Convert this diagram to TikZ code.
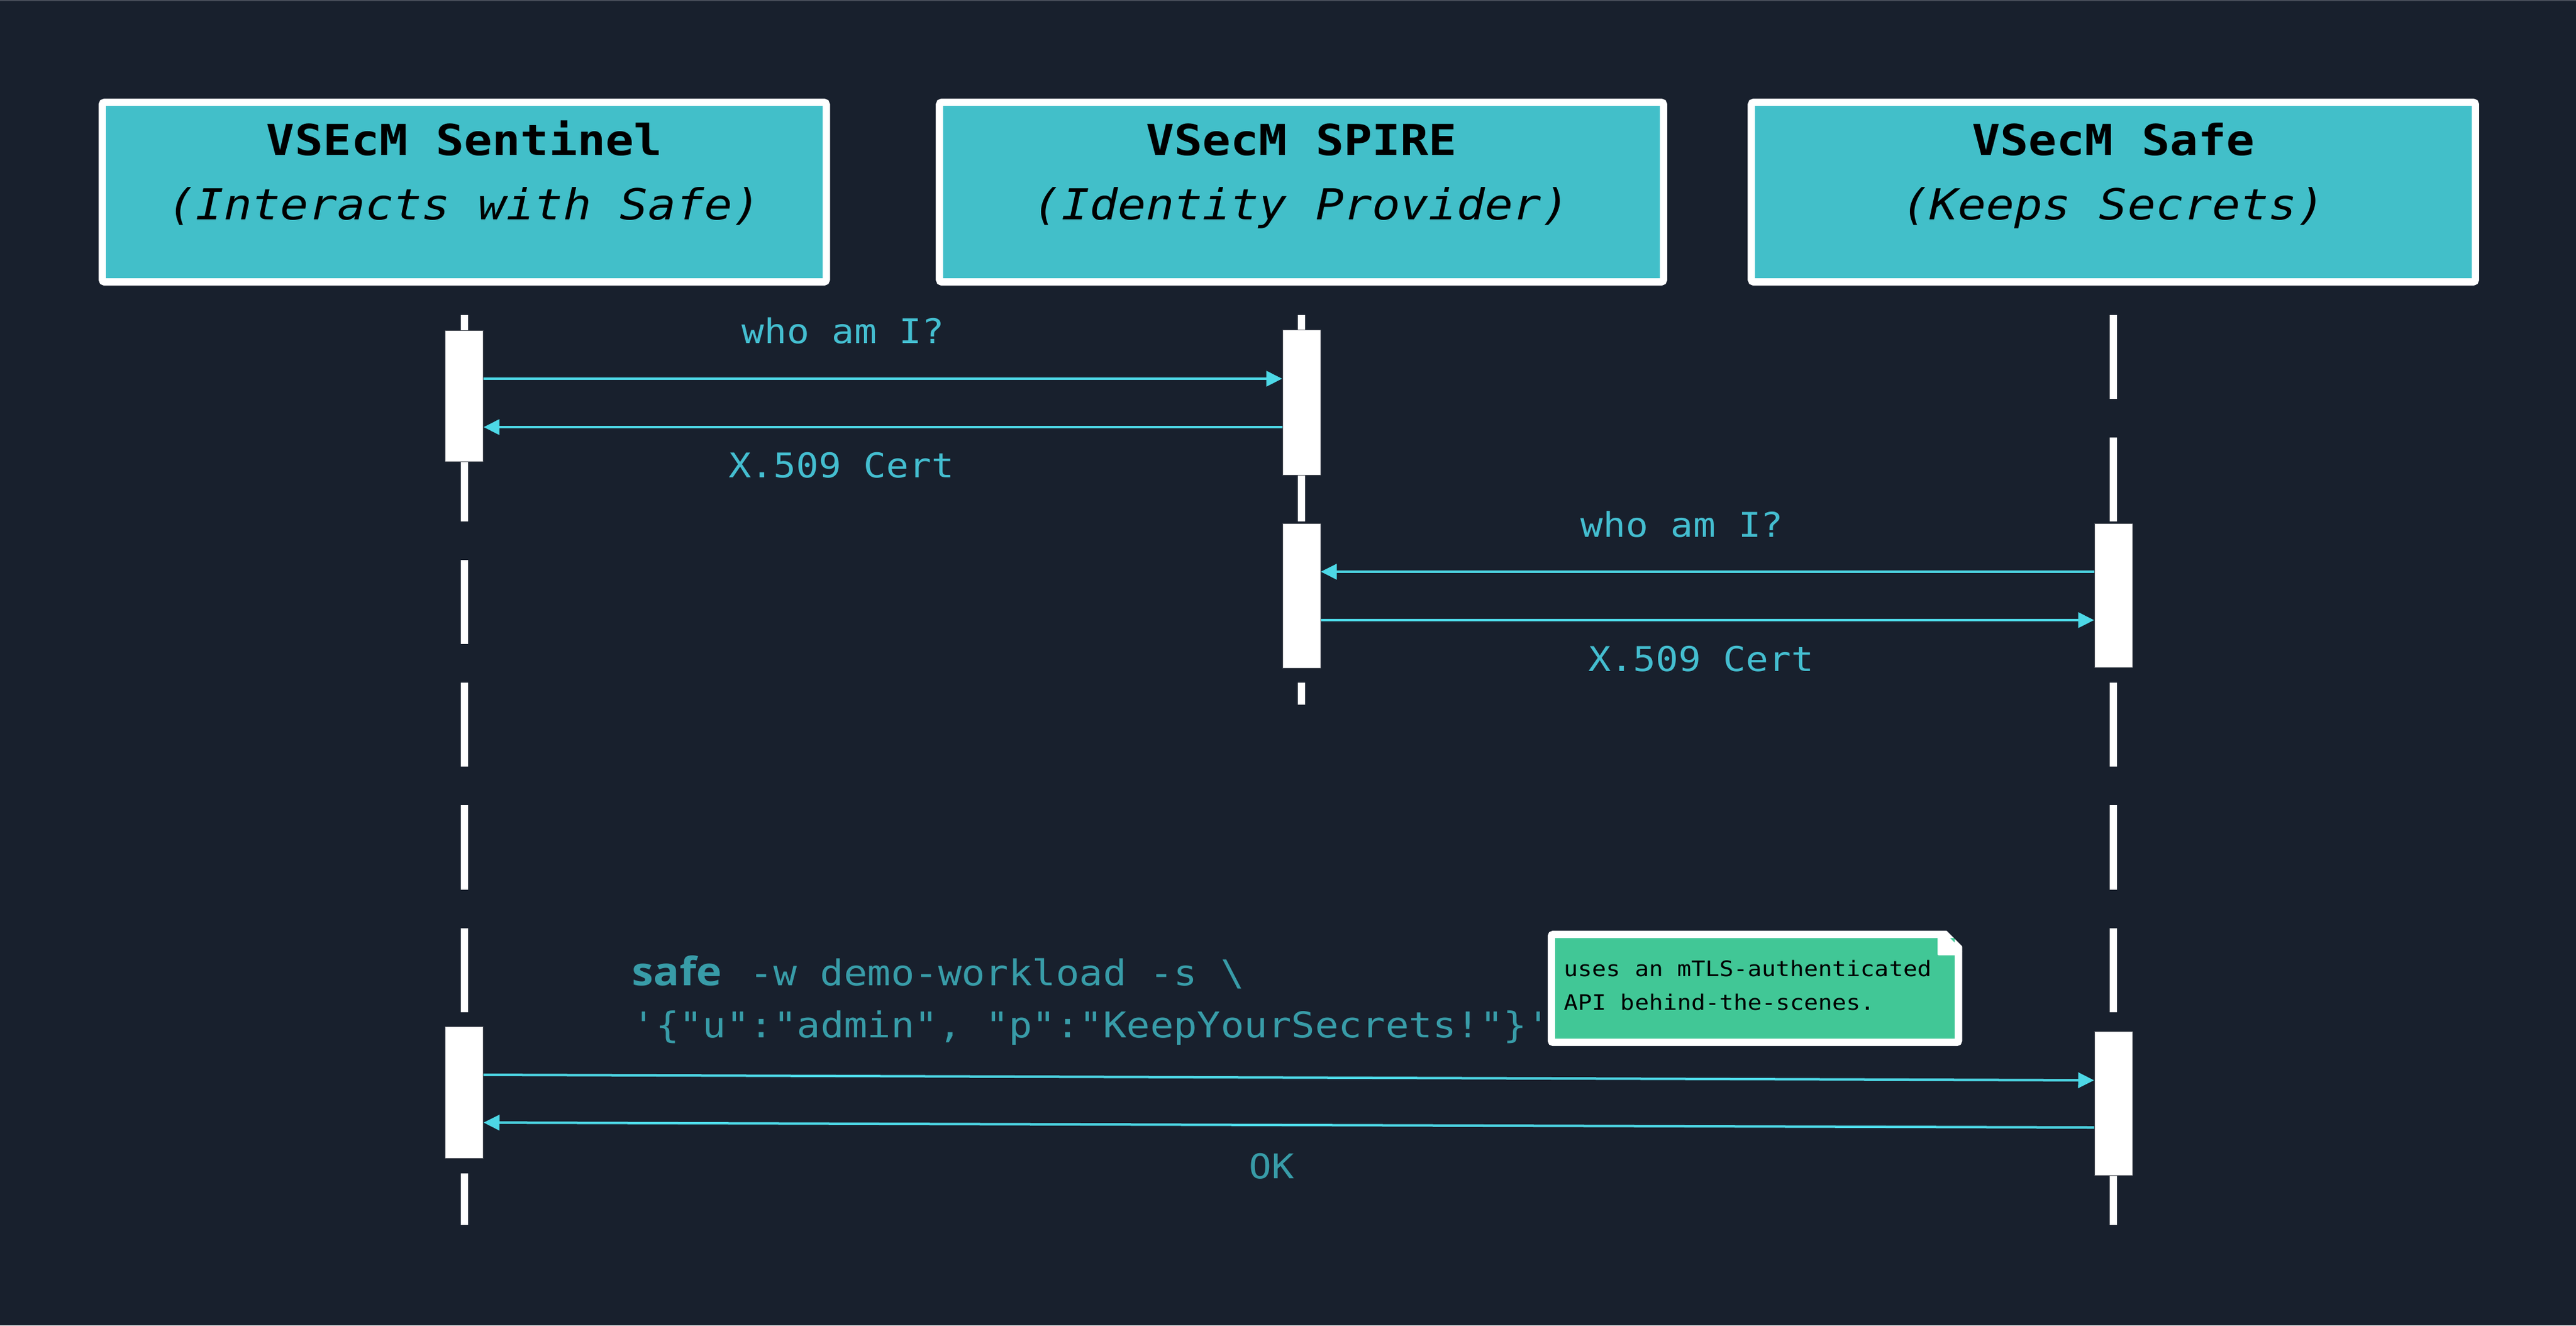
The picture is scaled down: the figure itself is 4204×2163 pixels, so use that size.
\documentclass[tikz,border=0pt]{standalone}
\usepackage{fontspec}
\usetikzlibrary{arrows.meta}
\newfontfamily\ttlfont{DejaVu Sans Mono}[FakeStretch=1.1, Ligatures=TeXOff]
\newfontfamily\lblfont{DejaVu Sans Mono}[FakeStretch=1.1, Ligatures=TeXOff]
\newfontfamily\safewordfont{Open Sans}[FakeStretch=1.1, Ligatures=TeXOff]
\definecolor{bg}{RGB}{24,32,45}
\definecolor{boxfill}{RGB}{66,191,201}
\definecolor{arrowc}{RGB}{77,216,230}
\definecolor{lblc}{RGB}{68,190,208}
\definecolor{cmdc}{RGB}{56,156,168}
\definecolor{notefill}{RGB}{65,199,150}
\definecolor{actedge}{RGB}{80,84,92}
\definecolor{topline}{RGB}{70,76,88}
\tikzset{
  header/.style={draw=white, fill=boxfill, line width=0.12cm, minimum width=11.81cm, minimum height=2.93cm, inner sep=0pt, rounded corners=0.04cm},
  ttl/.style={inner sep=0pt, anchor=base, text=black, font=\ttlfont\bfseries\fontsize{19.8pt}{24pt}\selectfont},
  subttl/.style={inner sep=0pt, anchor=base, text=black, font=\ttlfont\itshape\fontsize{19.8pt}{24pt}\selectfont},
  act/.style={draw=actedge, line width=0.01cm, fill=white, minimum width=0.62cm, inner sep=0pt},
  lifeline/.style={white, line width=0.12cm, dash pattern=on 1.37cm off 0.63cm},
  msg/.style={arrowc, line width=0.04cm, -{Triangle[length=0.26cm, width=0.25cm]}},
  lbl/.style={inner sep=0pt, anchor=base, text=lblc, font=\lblfont\fontsize{15.8pt}{19pt}\selectfont},
  cmd/.style={inner sep=0pt, anchor=base west, text=cmdc, font=\lblfont\fontsize{16.5pt}{20pt}\selectfont},
  safeword/.style={inner sep=0pt, anchor=base west, text=cmdc, font=\safewordfont\bfseries\fontsize{18.2pt}{22pt}\selectfont},
  notebox/.style={draw=white, fill=notefill, line width=0.12cm, minimum width=6.64cm, minimum height=1.76cm, inner sep=0pt, rounded corners=0.03cm},
  notetxt/.style={inner sep=0pt, anchor=base west, text=black, font=\lblfont\fontsize{9.9pt}{12pt}\selectfont}
}
\begin{document}
\begin{tikzpicture}[x=0.01cm, y=-0.01cm]
\fill[bg] (0,0) rectangle (4204,2163);
\useasboundingbox (0,0) rectangle (4204,2163);
\fill[topline] (0,0) rectangle (4204,2);

% header boxes
\node[header] (h1) at (757.7,313.5) {};
\node[header] (h2) at (2124,313.5) {};
\node[header] (h3) at (3449,313.5) {};
\node[ttl] (t1) at (757.7,253) {VSEcM Sentinel};
\node[subttl] (s1) at (757.7,358) {(Interacts with Safe)};
\node[ttl] (t2) at (2124,253) {VSecM SPIRE};
\node[subttl] (s2) at (2124,358) {(Identity Provider)};
\node[ttl] (t3) at (3449,253) {VSecM Safe};
\node[subttl] (s3) at (3449,358) {(Keeps Secrets)};

% lifelines
\coordinate (L1a) at (757.7,514);
\coordinate (L1b) at (757.7,1999);
\coordinate (L2a) at (2124,514);
\coordinate (L2b) at (2124,1150);
\coordinate (L3a) at (3449,514);
\coordinate (L3b) at (3449,1999);
\draw[lifeline] (L1a) -- (L1b);
\draw[lifeline] (L2a) -- (L2b);
\draw[lifeline] (L3a) -- (L3b);

% activation bars
\node[act, minimum height=2.13cm] (A1) at (757.7,646.5) {};
\node[act, minimum height=2.14cm] (A2) at (757.7,1783) {};
\node[act, minimum height=2.36cm] (B1) at (2124,657) {};
\node[act, minimum height=2.35cm] (B2) at (2124,972.5) {};
\node[act, minimum height=2.34cm] (C1) at (3449,972) {};
\node[act, minimum height=2.34cm] (C2) at (3449,1801) {};

% messages
\draw[msg] (A1.east |- 0,618) -- (B1.west |- 0,618);
\draw[msg] (B1.west |- 0,697) -- (A1.east |- 0,697);
\draw[msg] (C1.west |- 0,933) -- (B2.east |- 0,933);
\draw[msg] (B2.east |- 0,1012) -- (C1.west |- 0,1012);
\draw[msg] (A2.east |- 0,1754) -- (C2.west |- 0,1763);
\draw[msg] (C2.west |- 0,1840) -- (A2.east |- 0,1832);

% message labels
\node[lbl] (m1) at (1376,560) {who am I?};
\node[lbl] (m2) at (1373,779) {X.509 Cert};
\node[lbl] (m3) at (2745,876) {who am I?};
\node[lbl] (m4) at (2776,1095) {X.509 Cert};
\node[lbl, text=cmdc] (m6) at (2075,1923) {OK};

% command
\node[safeword] (c0) at (1031,1608) {safe};
\node[cmd] (c1) at (1223,1608) {-w demo-workload -s \textbackslash};
\node[cmd] (c2) at (1031,1693) {'\{"u":"admin", "p":"KeepYourSecrets!"\}'};

% note
\node[notebox] (note) at (2864,1613) {};
\fill[bg] (3166,1508) -- (3214,1508) -- (3214,1556) -- cycle;
\draw[white, line width=0.12cm, line cap=round] (3168,1525) -- (3196,1553);
\fill[white, rounded corners=0.02cm] (3162,1525) -- (3196,1559) -- (3162,1559) -- cycle;
\node[notetxt] (n1) at (2552,1593) {uses an mTLS-authenticated};
\node[notetxt] (n2) at (2552,1648) {API behind-the-scenes.};
\end{tikzpicture}
\end{document}
